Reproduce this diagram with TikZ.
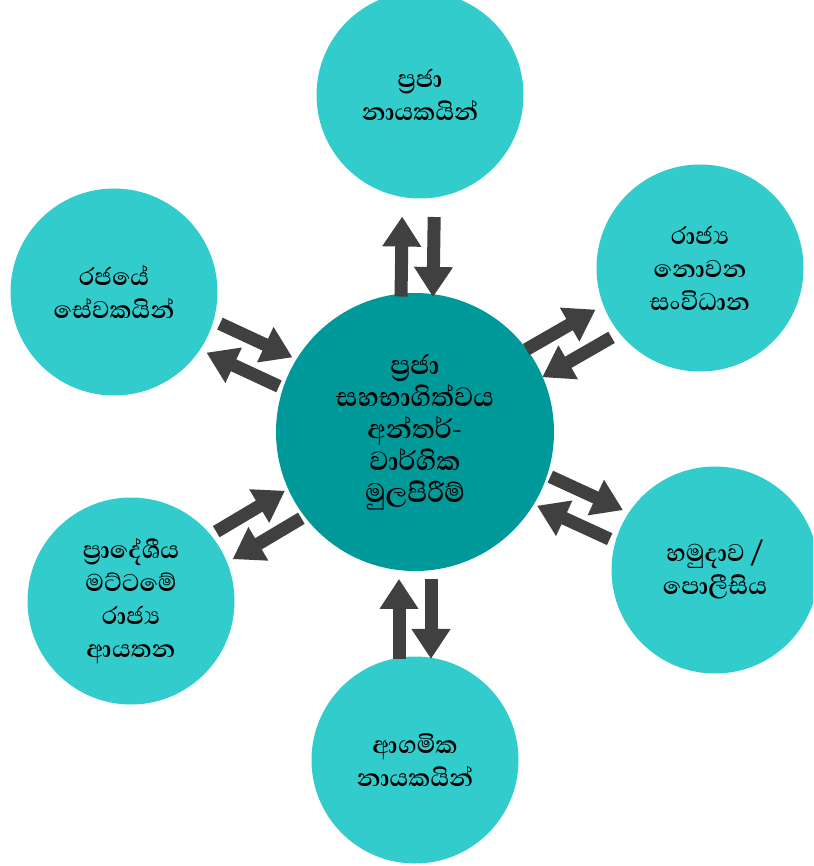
\documentclass[tikz,border=0pt]{standalone}
\usepackage{fontspec}
\newfontfamily\sinhala[Script=Sinhala]{Abhaya Libre}
\usetikzlibrary{calc,arrows.meta}
\tikzset{
  sinhtext/.style={font=\sinhala\bfseries\fontsize{31}{33}\selectfont,
    text=black,align=center},
  hub/.style={circle,fill=hubcol,minimum size=278pt,inner sep=0pt,sinhtext,
    font=\sinhala\bfseries\fontsize{34}{32}\selectfont},
  actor/.style={circle,fill=actorcol,minimum size=207pt,inner sep=0pt,sinhtext},
  flow/.style={draw=flowcol,line width=13pt,
    -{Triangle[length=30pt,width=37pt]}}
}
\begin{document}
\begin{tikzpicture}[x=1pt,y=-1pt]
 \definecolor{hubcol}{RGB}{0,153,153}
 \definecolor{actorcol}{RGB}{51,204,204}
 \definecolor{flowcol}{RGB}{64,64,64}
 \useasboundingbox (0,0) rectangle (813,866);
 \clip (0,0) rectangle (813,866);
 % centre
 \node[hub] (cen) at (415,432)
   {ප්^^^^200dරජා\\සහභාගිත්වය\\අන්තර්-\\වාර්ගික\\මුලපිරීම්};
 % actors round it
 \node[actor] (top) at (420,95) {ප්^^^^200dරජා\\නායකයින්};
 \node[actor] (ngo) at (700,268) {රාජ්^^^^200dය\\නොවන\\සංවිධාන};
 \node[actor] (army) at (715,570) {හමුදාව /\\පොලීසිය};
 \node[actor] (relig) at (415,760) {ආගමික\\නායකයින්};
 \node[actor] (local) at (131,601)
   {ප්^^^^200dරාදේශීය\\මට්ටමේ\\රාජ්^^^^200dය\\ආයතන};
 \node[actor] (govt) at (114,292) {රජයේ\\සේවකයින්};
 % two-way arrows
 \foreach \o/\f in {top/0.52, ngo/0.54, army/0.55,
   relig/0.57, local/0.55, govt/0.55} {
   \coordinate (mid) at ($(cen)!\f!(\o)$);
   \draw[flow] let \p1=($(\o)-(cen)$), \n1={atan2(\y1,\x1)} in
     ($(mid)+({\n1+90}:16pt)+({\n1+180}:40pt)$)
     -- ($(mid)+({\n1+90}:16pt)+(\n1:40pt)$);
   \draw[flow] let \p1=($(\o)-(cen)$), \n1={atan2(\y1,\x1)} in
     ($(mid)+({\n1-90}:16pt)+(\n1:40pt)$)
     -- ($(mid)+({\n1-90}:16pt)+({\n1+180}:40pt)$);
 }
\end{tikzpicture}
\end{document}
